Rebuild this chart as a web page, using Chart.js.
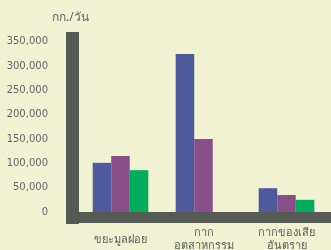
<!DOCTYPE html>
<html>
<head>
<meta charset="utf-8">
<script src="https://cdn.jsdelivr.net/npm/chart.js@4"></script>
<style>
  body { margin: 0; background: #f0f2d2; }
</style>
</head>
<body>
<canvas id="myChart" width="331" height="250"></canvas>
<script>
// categories and values (kg/day)
const types = ['ขยะมูลฝอย', ['กาก', 'อุตสาหกรรม'], ['กากของเสีย', 'อันตราย']]
const blueVals = [101000, 325000, 49000]
const purpleVals = [115000, 150000, 35000]
const greenVals = [86000, null, 25000]
const yTicks = [0, 50000, 100000, 150000, 200000, 250000, 300000, 350000]
const unit = 'กก./วัน'

const wall = '#555a55'

// grey L shaped axis wall + unit text
const wallPlugin = {
    id: 'wall',
    beforeDatasetsDraw(chart) {
        const a = chart.chartArea
        const c = chart.ctx
        c.save()
        c.fillStyle = wall
        c.fillRect(a.left - 13, a.top, 13, a.bottom + 12 - a.top)
        c.fillRect(a.left - 13, a.bottom, chart.width - a.left + 13, 11)
        c.fillStyle = '#5f6468'
        c.font = '12px "Noto Sans", "DejaVu Sans", sans-serif'
        c.textAlign = 'left'
        c.textBaseline = 'middle'
        c.fillText(unit, a.left - 27, a.top - 14)
        c.restore()
    }
}

const ctx = document.getElementById('myChart')
new Chart(ctx, {
    type: 'bar',
    data: {
        labels: types,
        datasets: [
            { label: 'A', data: blueVals, backgroundColor: '#4e5a9c' },
            { label: 'B', data: purpleVals, backgroundColor: '#8a4f88' },
            { label: 'C', data: greenVals, backgroundColor: '#00ad5e' }
        ]
    },
    options: {
        responsive: false,
        animation: false,
        layout: { padding: { top: 32, right: 3, left: 0, bottom: 0 } },
        plugins: { legend: { display: false }, tooltip: { enabled: false } },
        datasets: { bar: { categoryPercentage: 0.67, barPercentage: 1 } },
        scales: {
            x: {
                grid: { display: false, drawTicks: false },
                border: { display: false },
                ticks: {
                    color: '#5a5e5a',
                    font: { size: 11, family: '"Noto Sans", "DejaVu Sans", sans-serif' },
                    padding: 21,
                    crossAlign: 'center',
                    maxRotation: 0,
                    autoSkip: false
                },
                afterFit: s => { s.height = 38; s.paddingLeft = 0; s.paddingRight = 0 }
            },
            y: {
                min: 0,
                max: 370000,
                grid: { display: false, drawTicks: false },
                border: { display: false },
                afterBuildTicks: s => { s.ticks = yTicks.map(v => ({ value: v })) },
                ticks: {
                    color: '#62666a',
                    font: { size: 10, family: '"DejaVu Sans", sans-serif' },
                    padding: 31,
                    callback: v => v.toLocaleString('en-US')
                },
                afterFit: s => { s.width = 79; s.paddingTop = 0; s.paddingBottom = 0 }
            }
        }
    },
    plugins: [wallPlugin]
})
</script>
</body>
</html>
